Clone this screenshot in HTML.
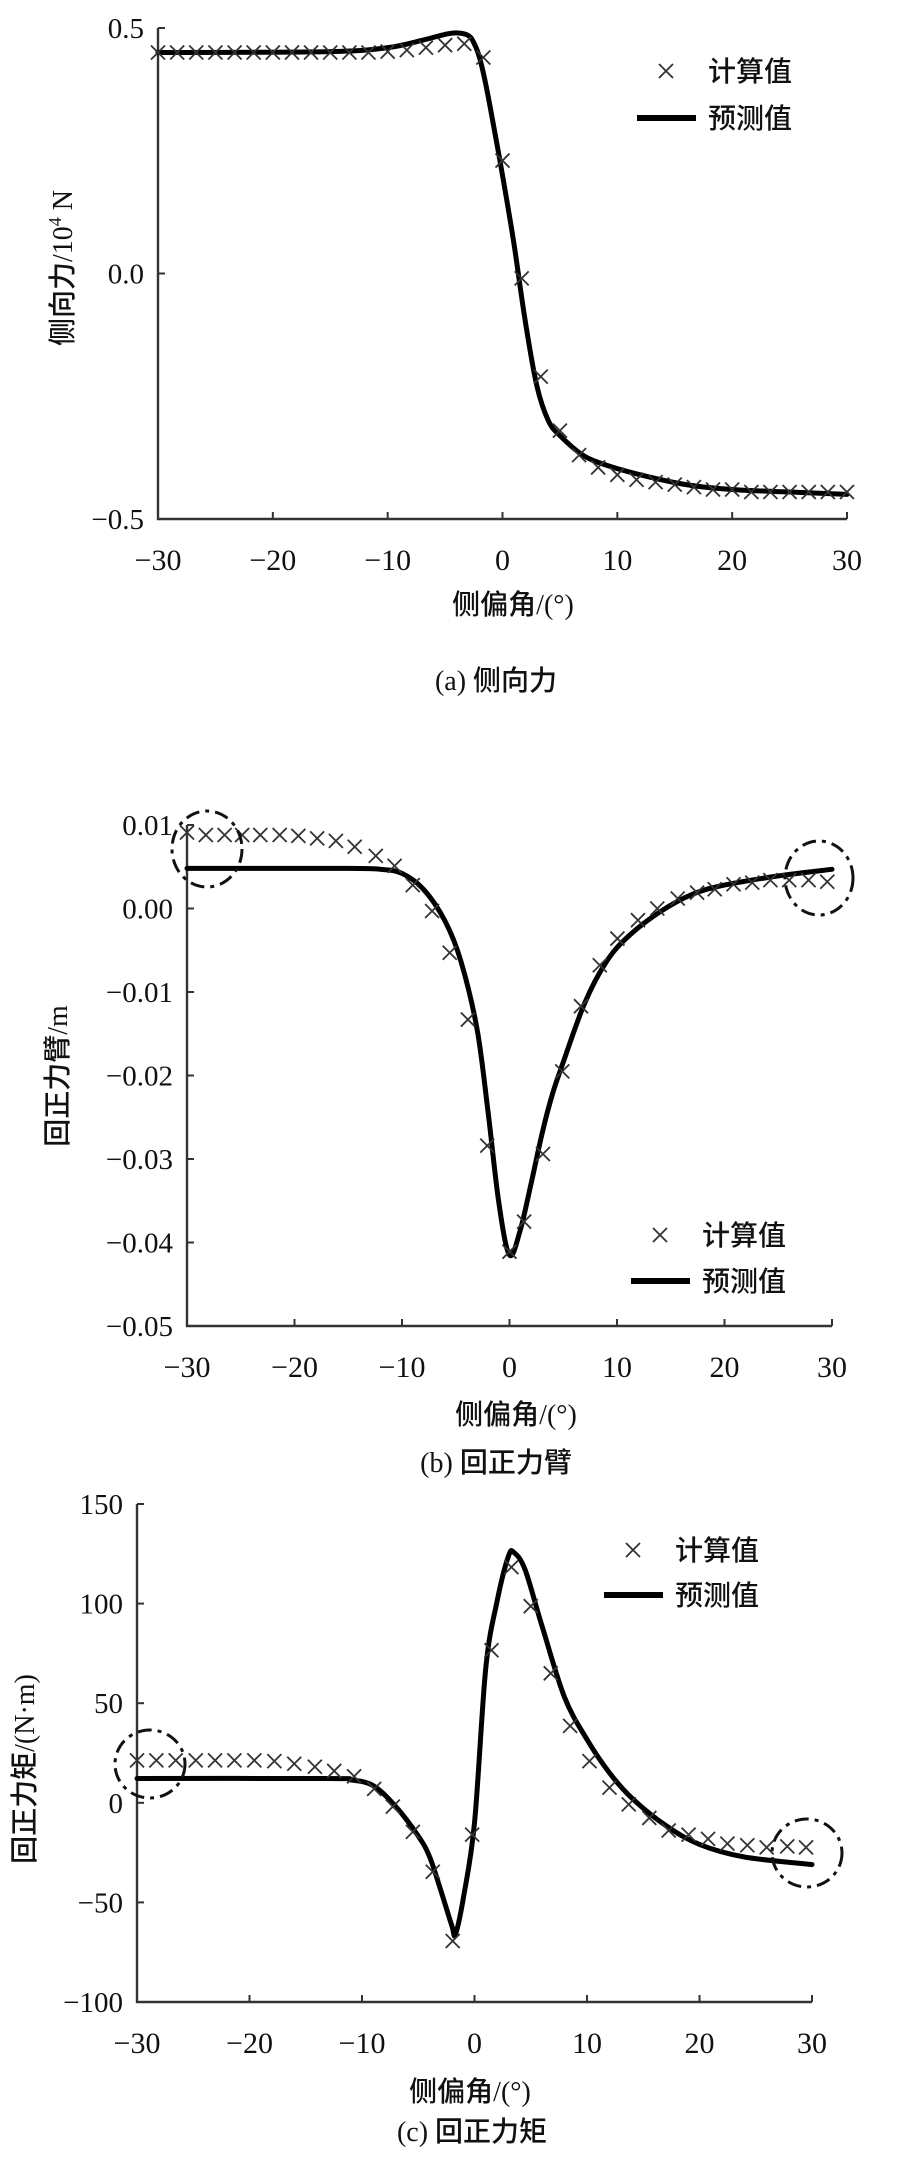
<!DOCTYPE html>
<html><head><meta charset="utf-8">
<style>
html,body{margin:0;padding:0;background:#fff;}
svg{display:block;}
text{font-family:"Liberation Serif","Noto Sans CJK SC",serif;fill:#111;}
.cn{font-family:"Liberation Serif","Noto Sans CJK SC",sans-serif;font-weight:500;}
</style></head>
<body>
<svg id="fig" width="921" height="2157" viewBox="0 0 921 2157" xmlns="http://www.w3.org/2000/svg"></svg>
<script>
// ---- Chart (a) lateral force ----
const aMarkX = [-30,-28.33,-26.67,-25,-23.33,-21.67,-20,-18.33,-16.67,-15,-13.33,-11.67,-10,-8.33,-6.67,-5,-3.33,-1.67,0,1.67,3.33,5,6.67,8.33,10,11.67,13.33,15,16.67,18.33,20,21.67,23.33,25,26.67,28.33,30];
const aMarkY = [0.45,0.45,0.45,0.45,0.45,0.45,0.45,0.45,0.45,0.45,0.45,0.45,0.452,0.455,0.46,0.465,0.468,0.44,0.23,-0.01,-0.21,-0.32,-0.37,-0.395,-0.41,-0.42,-0.425,-0.43,-0.435,-0.44,-0.44,-0.445,-0.445,-0.445,-0.445,-0.445,-0.445];
const aLineX = [-30,-15,-10,-7,-5,-4,-3,-2.5,-2,-1.5,-1,0,1,2,3,4,5,7,9,12,16,20,25,30];
const aLineY = [0.45,0.452,0.46,0.475,0.487,0.49,0.485,0.47,0.44,0.39,0.33,0.2,0.06,-0.1,-0.23,-0.3,-0.33,-0.37,-0.39,-0.41,-0.43,-0.44,-0.445,-0.45];
const aYTicks = [0.5,0.0,-0.5];
const aYTickLabels = ["0.5","0.0","\u22120.5"];
// ---- Chart (b) pneumatic trail ----
const bMarkX = [-30,-28.25,-26.5,-24.87,-23.18,-21.38,-19.64,-17.89,-16.15,-14.4,-12.44,-10.69,-9.0,-7.2,-5.56,-3.87,-2.07,0,1.36,3.11,4.91,6.65,8.4,10.04,11.95,13.75,15.65,17.45,19.09,20.84,22.58,24.27,26.02,27.82,29.56];
const bMarkY = [0.0091,0.0088,0.0088,0.0088,0.0088,0.0088,0.0087,0.0084,0.0081,0.0074,0.0063,0.0051,0.0028,-0.0003,-0.0053,-0.0133,-0.0284,-0.0411,-0.0375,-0.0294,-0.0195,-0.0117,-0.0068,-0.0036,-0.0014,0,0.0012,0.0019,0.0023,0.0029,0.0031,0.0034,0.0034,0.0034,0.0032];
const bLineX = [-30,-15,-12,-10,-8,-6,-4.5,-3,-2,-1,0,1,2,3,4,5,7,9,11,14,17,20,25,30];
const bLineY = [0.0048,0.0048,0.0047,0.0042,0.0023,-0.0015,-0.0064,-0.0146,-0.0243,-0.0352,-0.0415,-0.0385,-0.033,-0.0271,-0.0222,-0.0184,-0.0113,-0.0064,-0.0034,-0.0004,0.0017,0.0028,0.0039,0.0047];
const bYTicks = [0.01,0,-0.01,-0.02,-0.03,-0.04,-0.05];
const bYTickLabels = ["0.01","0.00","\u22120.01","\u22120.02","\u22120.03","\u22120.04","\u22120.05"];
// ---- Chart (c) aligning moment ----
const cMarkX = [-30,-28.28,-26.56,-24.78,-23.06,-21.34,-19.57,-17.79,-16.02,-14.19,-12.47,-10.7,-8.92,-7.26,-5.48,-3.71,-1.94,-0.21,1.51,3.28,5.0,6.78,8.5,10.22,12.0,13.71,15.54,17.26,19.03,20.76,22.48,24.25,25.97,27.8,29.47];
const cMarkY = [21.3,21.3,21.3,21.3,21.3,21.3,21.3,20.9,19.6,18.1,16,13.3,7,-1.9,-14.6,-34.6,-69.4,-16,76.6,118.3,98.7,65,38.6,20.9,7.6,-0.8,-7.6,-13.9,-16,-18.1,-20.5,-21.3,-22.4,-21.9,-22.4];
const cLineX = [-30,-13,-11,-9,-7,-5,-4,-3,-2,-1.7,-1,0,1,2,3,3.5,4.5,6,8,10,12,14,17,20,24,30];
const cLineY = [12.2,12.2,11.5,8.6,-1.9,-16.7,-27,-44,-62,-66,-48,-10,67.7,101,123.6,125.7,117,88.8,53,31.8,15,2.3,-11.4,-20.9,-27.2,-31];
const cYTicks = [150,100,50,0,-50,-100];
const cYTickLabels = ["150","100","50","0","\u221250","\u2212100"];
const xTicks = [-30,-20,-10,0,10,20,30];
const xTickLabels = ["\u221230","\u221220","\u221210","0","10","20","30"];

const NS = "http://www.w3.org/2000/svg";
const svg = document.getElementById('fig');
function mk(tag, attrs, parent){
  const e = document.createElementNS(NS, tag);
  for (const k in attrs) e.setAttribute(k, attrs[k]);
  (parent||svg).appendChild(e);
  return e;
}
function smoothPath(pts){
  let d = "M"+pts[0][0].toFixed(1)+","+pts[0][1].toFixed(1);
  for (let i=0;i<pts.length-1;i++){
    const p0=pts[Math.max(0,i-1)], p1=pts[i], p2=pts[i+1], p3=pts[Math.min(pts.length-1,i+2)];
    const t=6;
    const c1=[p1[0]+(p2[0]-p0[0])/t, p1[1]+(p2[1]-p0[1])/t];
    const c2=[p2[0]-(p3[0]-p1[0])/t, p2[1]-(p3[1]-p1[1])/t];
    d += " C"+c1[0].toFixed(1)+","+c1[1].toFixed(1)+" "+c2[0].toFixed(1)+","+c2[1].toFixed(1)+" "+p2[0].toFixed(1)+","+p2[1].toFixed(1);
  }
  return d;
}

function drawChart(c){
  const g = mk('g', {});
  
  
  const sx = v => c.x0 + (v - (-30)) / 60 * (c.x1 - c.x0);
  const sy = v => c.yTop + (c.yMax - v) / (c.yMax - c.yMin) * (c.yBot - c.yTop);
  const ax = mk('path', {d:`M${c.x0},${c.yTop} V${c.yBot} H${c.x1}`, fill:'none', stroke:'#333', 'stroke-width':2.4}, g);
  
  
  c.yTicks.forEach((v,i)=>{
    const y = sy(v);
    const t = mk('line', {x1:c.x0, x2:c.x0+7, y1:y, y2:y, stroke:'#333','stroke-width':2}, g);
    
    
    const l = mk('text', {x:c.x0-14, y:y+10, 'text-anchor':'end', 'font-size':29}, g);
    l.textContent = c.yLabels[i];
    
    
  });
  xTicks.forEach((v,i)=>{
    const x = sx(v);
    const t = mk('line', {x1:x, x2:x, y1:c.yBot, y2:c.yBot-7, stroke:'#333','stroke-width':2}, g);
    
    
    const l = mk('text', {x:x, y:c.yBot+51, 'text-anchor':'middle', 'font-size':30}, g);
    l.textContent = xTickLabels[i];
    
    
  });
  const pts = c.lx.map((v,i)=>[sx(v), sy(c.ly[i])]);
  const p = mk('path', {d:smoothPath(pts), fill:'none', stroke:'#000','stroke-width':5,'stroke-linejoin':'round','stroke-linecap':'round'}, g);
  
  
  c.mx.forEach((v,i)=>{
    const x = sx(v), y = sy(c.my[i]), s = 7;
    const m = mk('path', {d:`M${x-s},${y-s} L${x+s},${y+s} M${x-s},${y+s} L${x+s},${y-s}`, stroke:'#333','stroke-width':1.8, fill:'none'}, g);
    
    
  });
  (c.circles||[]).forEach(ci=>{
    const e = mk('ellipse', {cx:ci[0], cy:ci[1], rx:ci[2], ry:ci[3], fill:'none', stroke:'#111','stroke-width':3,'stroke-dasharray':'14 6 4 6'}, g);
    
    
  });
  const lg = mk('g', {}, g);
  
  
  const [lx, ly1, ly2] = c.legend;
  const s = 7;
  mk('path', {d:`M${lx-s},${ly1-s} L${lx+s},${ly1+s} M${lx-s},${ly1+s} L${lx+s},${ly1-s}`, stroke:'#333','stroke-width':1.8}, lg);
  const t1 = mk('text', {x:lx+42, y:ly1+10, 'font-size':28, class:'cn'}, lg);
  t1.textContent = '计算值';
  
  
  mk('line', {x1:lx-29, x2:lx+30, y1:ly2, y2:ly2, stroke:'#000','stroke-width':6}, lg);
  const t2 = mk('text', {x:lx+42, y:ly2+10, 'font-size':28, class:'cn'}, lg);
  t2.textContent = '预测值';
  
  
  const xt = mk('text', {x:c.xTitle[0], y:c.xTitle[1], 'text-anchor':'middle', 'font-size':28, class:'cn'}, g);
  xt.textContent = '侧偏角/(°)';
  
  
  const yt = mk('text', {x:0, y:0, 'text-anchor':'middle', 'font-size':28, class:'cn', transform:`translate(${c.yTitle[0]},${c.yTitle[1]}) rotate(-90)`}, g);
  yt.innerHTML = c.yTitleText;
  
  
  const cap = mk('text', {x:c.caption[0], y:c.caption[1], 'text-anchor':'middle', 'font-size':28, class:'cn'}, g);
  cap.textContent = c.captionText;
  
  
}

drawChart({id:'chart-lateral-force', x0:158, x1:847, yTop:28, yBot:519, yMax:0.5, yMin:-0.5,
  yTicks:aYTicks, yLabels:aYTickLabels, lx:aLineX, ly:aLineY, mx:aMarkX, my:aMarkY,
  legend:[666,71,118], xTitle:[513,614], yTitle:[72,268],
  yTitleText:'侧向力/10<tspan font-size="18" dy="-11">4</tspan><tspan dy="11"> N</tspan>',
  caption:[496,690], captionText:'(a) 侧向力'});
drawChart({id:'chart-pneumatic-trail', x0:187, x1:832, yTop:825, yBot:1326, yMax:0.01, yMin:-0.05,
  yTicks:bYTicks, yLabels:bYTickLabels, lx:bLineX, ly:bLineY, mx:bMarkX, my:bMarkY,
  circles:[[207,849,35,38],[819,878,34,37]],
  legend:[660,1235,1281], xTitle:[516,1424], yTitle:[67,1076],
  yTitleText:'回正力臂/m', caption:[496,1472], captionText:'(b) 回正力臂'});
drawChart({id:'chart-aligning-moment', x0:137, x1:812, yTop:1504, yBot:2002, yMax:150, yMin:-100,
  yTicks:cYTicks, yLabels:cYTickLabels, lx:cLineX, ly:cLineY, mx:cMarkX, my:cMarkY,
  circles:[[150,1764,35,34],[807,1853,35,34]],
  legend:[633,1550,1595], xTitle:[470,2101], yTitle:[34,1769],
  yTitleText:'回正力矩/(N·m)', caption:[472,2141], captionText:'(c) 回正力矩'});
</script>
</body></html>
